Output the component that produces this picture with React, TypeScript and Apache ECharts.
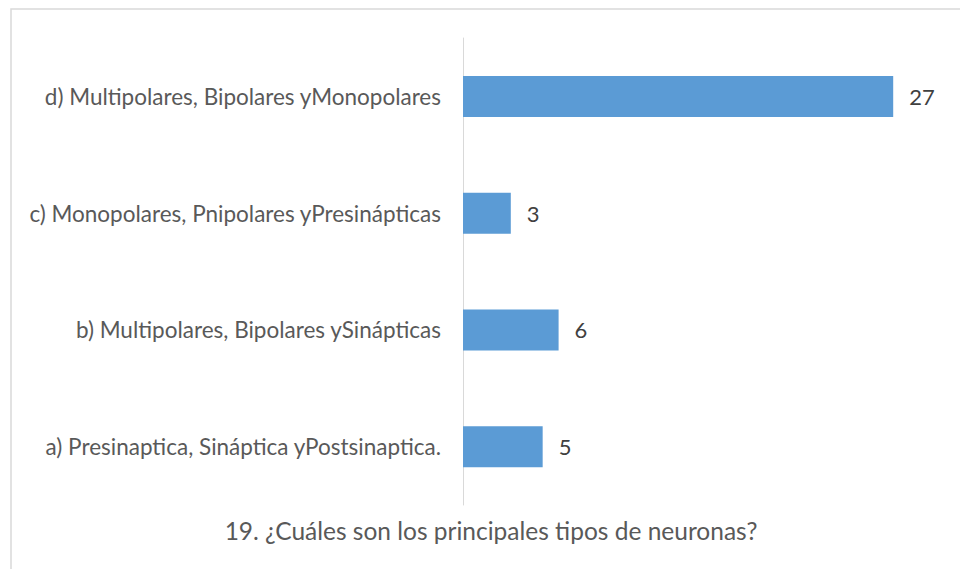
import React, { useEffect, useRef } from "react";
import * as echarts from "echarts";

const categories = [
  "a) Presinaptica, Sináptica yPostsinaptica.",
  "b) Multipolares, Bipolares ySinápticas",
  "c) Monopolares, Pnipolares yPresinápticas",
  "d) Multipolares, Bipolares yMonopolares",
];
const values = [5, 6, 3, 27];
const titleText = "19. ¿Cuáles son los principales tipos de neuronas?";

const FONT = "Lato";

export default function App() {
  const ref = useRef<HTMLDivElement>(null);
  useEffect(() => {
    if (!ref.current) return;
    const chart = echarts.init(ref.current, null, { renderer: "svg" });
    chart.setOption({
      animation: false,
      backgroundColor: "#ffffff",
      textStyle: { fontFamily: FONT },
      graphic: [
        {
          type: "rect",
          shape: { x: 11, y: 9, width: 1000, height: 620 },
          style: { fill: "none", stroke: "#d9d9d9", lineWidth: 1.5 },
          silent: true,
        },
        {
          type: "text",
          x: 491,
          y: 530,
          style: {
            text: titleText,
            fontFamily: FONT,
            fontSize: 24.5,
            fill: "#595959",
            textAlign: "center",
            textVerticalAlign: "middle",
          },
        },
      ],
      grid: { left: 463, right: 19, top: 38, bottom: 64, containLabel: false },
      xAxis: {
        type: "value",
        min: 0,
        max: 30,
        show: false,
        splitLine: { show: false },
      },
      yAxis: {
        type: "category",
        data: categories,
        axisLine: { show: true, lineStyle: { color: "#d9d9d9", width: 1 } },
        axisTick: { show: false },
        axisLabel: {
          margin: 22,
          fontSize: 22.5,
          color: "#595959",
          fontFamily: FONT,
        },
      },
      series: [
        {
          type: "bar",
          data: values,
          barWidth: 41,
          itemStyle: { color: "#5b9bd5" },
          label: {
            show: true,
            position: "right",
            distance: 16,
            fontSize: 22,
            color: "#404040",
            fontFamily: FONT,
          },
        },
      ],
    });
    return () => chart.dispose();
  }, []);
  return (
    <div
      ref={ref}
      style={{ position: "fixed", left: 0, top: 0, width: 960, height: 569 }}
    />
  );
}
